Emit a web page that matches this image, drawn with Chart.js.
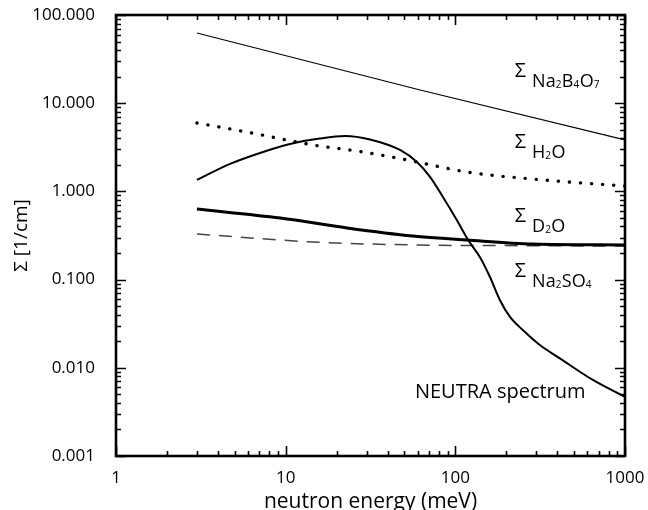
<!DOCTYPE html>
<html>
<head>
<meta charset="utf-8">
<script src="https://cdn.jsdelivr.net/npm/chart.js@4/dist/chart.umd.min.js"></script>
<style>
  html, body { margin: 0; padding: 0; background: #fff; }
  #wrap { width: 648px; height: 510px; }
</style>
</head>
<body>
<div id="wrap"><canvas id="chart"></canvas></div>
<script>
/* ---------- data ---------- */
const xTicks = [1, 10, 100, 1000];
const yTicks = [0.001, 0.01, 0.1, 1, 10, 100];

const energyBorax = [3, 62, 1000];
const sigmaBorax = [62.5, 14.1, 3.83];

const energyH2O = [3, 5.9, 14.5, 28.5, 52, 117, 287, 1000];
const sigmaH2O = [5.97, 4.71, 3.36, 2.80, 2.27, 1.66, 1.38, 1.15];

const energyD2O = [3, 9.3, 23, 56, 117, 287, 1000];
const sigmaD2O = [0.631, 0.499, 0.385, 0.312, 0.281, 0.253, 0.247];

const energyNa2SO4 = [3, 14.5, 56, 200, 1000];
const sigmaNa2SO4 = [0.329, 0.267, 0.247, 0.243, 0.240];

const energySpectrum = [3, 4.7, 7.06, 10.6, 15.9, 22.4, 31.4, 47.2, 59.4, 70.9, 84.5, 102, 119, 140, 160, 183, 210, 250, 315, 413, 647, 1000];
const spectrum = [1.35, 2.05, 2.73, 3.45, 3.98, 4.25, 3.88, 2.95, 2.15, 1.46, 0.864, 0.474, 0.281, 0.178, 0.107, 0.0587, 0.0377, 0.0268, 0.0181, 0.0128, 0.00728, 0.00467];

// text labels: [formula parts, energy at left edge, sigma at baseline]
const curveLabels = [
    [[["Na", 0], ["2", 1], ["B", 0], ["4", 1], ["O", 0], ["7", 1]], 224, 15.3],
    [[["H", 0], ["2", 1], ["O", 0]], 224, 2.39],
    [[["D", 0], ["2", 1], ["O", 0]], 224, 0.347],
    [[["Na", 0], ["2", 1], ["SO", 0], ["4", 1]], 224, 0.0824]
];
const spectrumLabel = ["NEUTRA spectrum", 57.8, 0.00455];

const FONT = "'Open Sans', 'DejaVu Sans', sans-serif";

function pts(xs, ys) {
    return xs.map((x, i) => ({ x: x, y: ys[i] }));
}

// keep chart area where the reference has it
function noScalePadding(s) {
    s.paddingTop = 0;
    s.paddingBottom = 0;
    s.paddingLeft = 0;
    s.paddingRight = 0;
}

/* ---------- box + inward ticks + labels ---------- */
const frame = {
    id: "frame",
    afterDraw(chart) {
        const ctx = chart.ctx;
        const a = chart.chartArea;
        const xs = chart.scales.x, ys = chart.scales.y;
        ctx.save();
        ctx.strokeStyle = "#000";
        ctx.lineCap = "butt";

        function minors(lo, hi) {
            const out = [];
            for (let d = lo; d < hi * 0.99; d *= 10) {
                for (let m = 1; m < 10; m++) out.push([d * m, m === 1]);
            }
            out.push([hi, true]);
            return out;
        }

        ctx.lineWidth = 1.6;
        minors(1, 1000).forEach(([v, major]) => {
            const px = Math.round(xs.getPixelForValue(v)) + 0.5;
            const len = major ? 10 : 5;
            ctx.beginPath();
            ctx.moveTo(px, a.bottom); ctx.lineTo(px, a.bottom - len);
            ctx.moveTo(px, a.top); ctx.lineTo(px, a.top + len);
            ctx.stroke();
        });
        minors(0.001, 100).forEach(([v, major]) => {
            const py = Math.round(ys.getPixelForValue(v)) + 0.5;
            const len = major ? 10 : 5;
            ctx.beginPath();
            ctx.moveTo(a.left, py); ctx.lineTo(a.left + len, py);
            ctx.moveTo(a.right, py); ctx.lineTo(a.right - len, py);
            ctx.stroke();
        });

        ctx.lineWidth = 2.6;
        ctx.strokeRect(a.left, a.top, a.right - a.left, a.bottom - a.top);

        /* curve labels */
        ctx.fillStyle = "#000";
        ctx.textBaseline = "alphabetic";
        ctx.textAlign = "left";
        curveLabels.forEach(([parts, e, s]) => {
            let x = xs.getPixelForValue(e);
            const y = ys.getPixelForValue(s);
            ctx.font = "20px " + FONT;
            ctx.fillText("Σ", x, y - 10);
            x += ctx.measureText("Σ").width + 6;
            parts.forEach(([t, sub]) => {
                ctx.font = (sub ? "10px " : "18px ") + FONT;
                ctx.fillText(t, x, y + (sub ? 1 : 0));
                x += ctx.measureText(t).width + (sub ? 0.5 : 0);
            });
        });
        ctx.font = "20px " + FONT;
        ctx.fillText(spectrumLabel[0],
            xs.getPixelForValue(spectrumLabel[1]),
            ys.getPixelForValue(spectrumLabel[2]));
        ctx.restore();
    }
};

/* ---------- chart ---------- */
new Chart(document.getElementById("chart"), {
    type: "line",
    data: {
        datasets: [
            {
                data: pts(energyBorax, sigmaBorax),
                borderColor: "#000",
                borderWidth: 1.2
            },
            {
                data: pts(energyH2O, sigmaH2O),
                borderColor: "#000",
                borderWidth: 3.4,
                borderDash: [0.1, 11],
                borderCapStyle: "round",
                cubicInterpolationMode: "monotone"
            },
            {
                data: pts(energySpectrum, spectrum),
                borderColor: "#000",
                borderWidth: 2,
                cubicInterpolationMode: "monotone"
            },
            {
                data: pts(energyD2O, sigmaD2O),
                borderColor: "#000",
                borderWidth: 3,
                cubicInterpolationMode: "monotone"
            },
            {
                data: pts(energyNa2SO4, sigmaNa2SO4),
                borderColor: "#444",
                borderWidth: 1.5,
                borderDash: [13, 9],
                cubicInterpolationMode: "monotone"
            }
        ]
    },
    options: {
        responsive: true,
        maintainAspectRatio: false,
        animation: false,
        events: [],
        elements: { point: { radius: 0 } },
        layout: { padding: { top: 15, right: 23, left: 0, bottom: 0 } },
        plugins: { legend: { display: false }, tooltip: { enabled: false } },
        scales: {
            x: {
                type: "logarithmic",
                min: 1,
                max: 1000,
                afterBuildTicks: s => { s.ticks = xTicks.map(v => ({ value: v })); },
                afterFit: s => { s.height = 54; noScalePadding(s); },
                grid: { display: false },
                border: { display: false },
                ticks: {
                    color: "#000",
                    padding: 4,
                    maxRotation: 0,
                    autoSkip: false,
                    font: { family: FONT, size: 17 },
                    callback: v => String(v)
                },
                title: {
                    display: true,
                    text: "neutron energy (meV)",
                    color: "#000",
                    font: { family: FONT, size: 21, lineHeight: 1 },
                    padding: { top: 0, bottom: -3 }
                }
            },
            y: {
                type: "logarithmic",
                min: 0.001,
                max: 100,
                afterBuildTicks: s => { s.ticks = yTicks.map(v => ({ value: v })); },
                afterFit: s => { s.width = 116; noScalePadding(s); },
                grid: { display: false },
                border: { display: false },
                ticks: {
                    color: "#000",
                    padding: 13,
                    autoSkip: false,
                    font: { family: FONT, size: 17 },
                    callback: v => Number(v).toFixed(3)
                },
                title: {
                    display: true,
                    text: "Σ [1/cm]",
                    color: "#000",
                    font: { family: FONT, size: 19, lineHeight: 1 },
                    padding: { top: 12, bottom: 0 }
                }
            }
        }
    },
    plugins: [frame]
});
</script>
</body>
</html>
